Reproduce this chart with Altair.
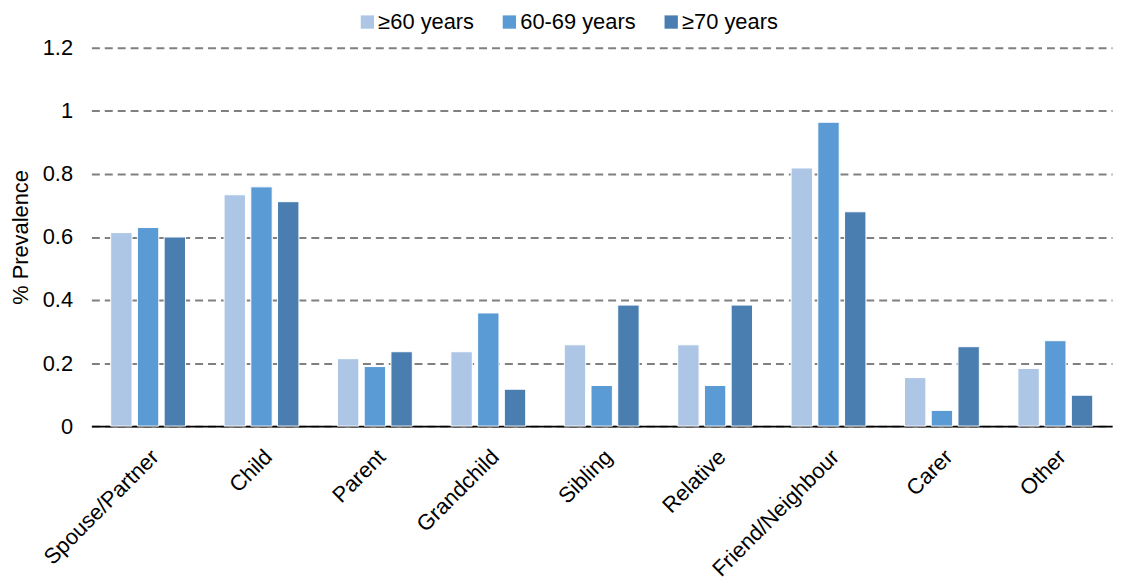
import altair as alt
import pandas as pd

categories = ["Spouse/Partner", "Child", "Parent", "Grandchild", "Sibling",
              "Relative", "Friend/Neighbour", "Carer", "Other"]
series = ["≥60 years", "60-69 years", "≥70 years"]
v_ge60 = [0.614, 0.734, 0.214, 0.236, 0.258, 0.258, 0.819, 0.154, 0.183]
v_6069 = [0.630, 0.759, 0.189, 0.359, 0.129, 0.129, 0.964, 0.050, 0.271]
v_ge70 = [0.600, 0.712, 0.236, 0.117, 0.384, 0.384, 0.680, 0.252, 0.098]
y_ticks = [0, 0.2, 0.4, 0.6, 0.8, 1, 1.2]
colors = ["#aec6e5", "#5b9bd5", "#4a7eb0"]

rows = []
for s, vals in zip(series, [v_ge60, v_6069, v_ge70]):
    for c, v in zip(categories, vals):
        rows.append({"category": c, "series": s, "value": v})
df = pd.DataFrame(rows)

FONT = "Liberation Sans"

bars = alt.Chart(df).mark_bar(stroke="white", strokeWidth=1).encode(
    x=alt.X("category:N", sort=categories, title=None,
            scale=alt.Scale(paddingInner=0.34, paddingOuter=0.17),
            axis=alt.Axis(labelAngle=-45, labelAlign="right", labelBaseline="top",
                          labelFontSize=22, labelFont=FONT, labelColor="black",
                          labelPadding=20, ticks=False, domain=True,
                          domainColor="black", domainWidth=2)),
    xOffset=alt.XOffset("series:N", sort=series,
                        scale=alt.Scale(paddingInner=0.2)),
    y=alt.Y("value:Q", title="% Prevalence",
            scale=alt.Scale(domain=[0, 1.2]),
            axis=alt.Axis(values=y_ticks, format=".1~f",
                          labelFontSize=22, labelFont=FONT, labelColor="black",
                          labelPadding=19, ticks=False, domain=False,
                          grid=True, gridColor="#808080", gridWidth=2,
                          gridDash=[8, 5],
                          titleFontSize=22, titleFont=FONT, titleFontWeight="normal",
                          titleColor="black", titlePadding=10)),
    color=alt.Color("series:N", sort=series,
                    scale=alt.Scale(domain=series, range=colors),
                    legend=alt.Legend(title=None, orient="none", direction="horizontal",
                                      legendX=267, legendY=-37,
                                      symbolType="square", symbolSize=180,
                                      symbolStrokeWidth=0,
                                      labelFontSize=22, labelFont=FONT,
                                      labelColor="black", columnPadding=24,
                                      labelOffset=0, labelLimit=300)),
)

chart = bars.properties(
    width=1028, height=381,
    autosize=alt.AutoSizeParams(type="none"),
    padding={"left": 84, "top": 38, "right": 3, "bottom": 175},
).configure_view(stroke=None)

chart.save("out.html", embed_options={"renderer": "svg", "actions": False})
